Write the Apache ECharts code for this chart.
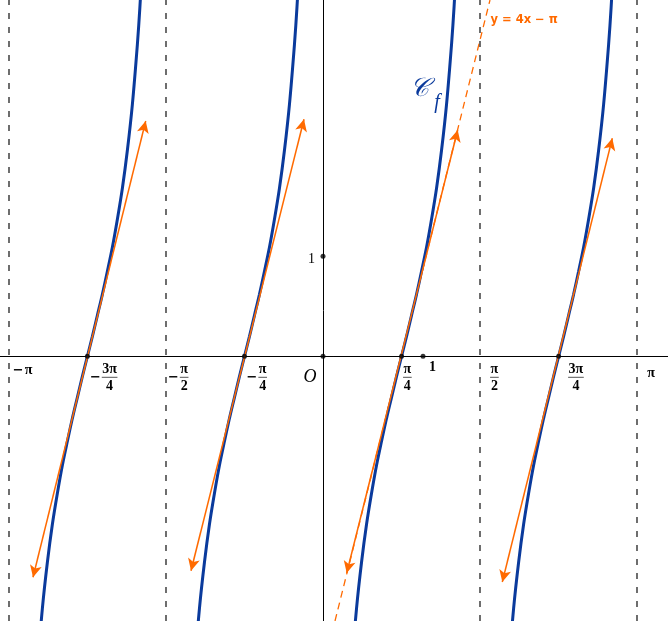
<!DOCTYPE html>
<html><head><meta charset="utf-8">
<script src="https://cdn.jsdelivr.net/npm/echarts@6/dist/echarts.min.js"></script>
<style>html,body{margin:0;padding:0;background:#fff}#c{width:668px;height:621px}</style>
</head><body><div id="c"></div>
<script>
const PI = Math.PI;

// ---- data ----
// zeros of the curve (one branch per zero)
const zeros = [-3 * PI / 4, -PI / 4, PI / 4, 3 * PI / 4];
// shape of one branch: horizontal offset from its zero, and curve value
const branchOffset = [-0.50, -0.45, -0.40, -0.35, -0.30, -0.25, -0.20, -0.15, -0.10, -0.05, 0, 0.05, 0.10, 0.15, 0.20, 0.25, 0.30, 0.35, 0.40, 0.45, 0.50, 0.525, 0.55];
const branchValue = [-3.12, -2.52, -2.06, -1.68, -1.37, -1.09, -0.85, -0.62, -0.41, -0.20, 0, 0.20, 0.41, 0.62, 0.85, 1.09, 1.37, 1.68, 2.06, 2.52, 3.12, 3.49, 3.93];
// vertical asymptotes
const asymptotes = [-PI, -PI / 2, PI / 2, PI];
// tangent segments (arrow to arrow)
const tangentStart = [[-2.90, -2.21], [-1.32, -2.144], [0.237, -2.167], [1.793, -2.257]];
const tangentEnd = [[-1.773, 2.353], [-0.19, 2.37], [1.347, 2.263], [2.893, 2.18]];
// dashed extension of y = 4x - pi
const tangentLine = [[0.12, -2.647], [1.67, 3.563]];
// marked points
const dots = [[0, 0], [0, 1], [1, 0], [-3 * PI / 4, 0], [-PI / 4, 0], [PI / 4, 0], [3 * PI / 4, 0]];
// x tick labels
const tickValues = [-PI, -3 * PI / 4, -PI / 2, -PI / 4, PI / 4, 1, PI / 2, 3 * PI / 4, PI];
const tickSign = ['−', '−', '−', '−', '', '', '', '', ''];
const tickNum = ['π', '3π', 'π', 'π', 'π', '1', 'π', '3π', 'π'];
const tickDen = ['', '4', '2', '4', '4', '', '2', '4', ''];
const curveName = ['𝒞', 'f'];
const tangentLabel = 'y = 4x − π';

// ---- layout (pixels offsets relative to anchors) ----
const tickLayout = [
  {dx: 4, dy: 14}, {dx: 2.5, dy: 0}, {dx: 2, dy: 0}, {dx: 2, dy: 0},
  {dx: 1.5, dy: 0}, {dx: 6, dy: 11}, {dx: 10, dy: 0}, {dx: 9.5, dy: 0}, {dx: 10, dy: 17}
];
const BLUE = '#0a3a9c';
const ORANGE = '#ff6a00';
const FONT_B = 'bold 14px "Liberation Serif"';
const FONT_MINUS = 'bold 13px "DejaVu Serif"';

const cv = document.createElement('canvas').getContext('2d');
function measure(t, font) { cv.font = font || FONT_B; return cv.measureText(t).width; }
function txt(t, x, y, align, font, fill) {
  return {type: 'text', style: {text: t, x: x, y: y, align: align, verticalAlign: 'middle', font: font || FONT_B, fill: fill || '#000'}};
}

const chart = echarts.init(document.getElementById('c'), null, {renderer: 'canvas'});

const branchSeries = zeros.map(z => ({
  type: 'line',
  data: branchOffset.map((d, i) => [z + d, branchValue[i]]),
  showSymbol: false, smooth: 0.3, clip: true, z: 3,
  lineStyle: {color: BLUE, width: 3}
}));

const option = {
  animation: false,
  grid: {left: 0, right: 0, top: 0, bottom: 0},
  xAxis: {type: 'value', min: -3.23, max: 3.45,
    axisLine: {onZero: true, lineStyle: {color: '#000', width: 1}},
    axisTick: {show: false}, axisLabel: {show: false}, splitLine: {show: false}},
  yAxis: {type: 'value', min: -2.647, max: 3.563,
    axisLine: {onZero: true, lineStyle: {color: '#000', width: 1}},
    axisTick: {show: false}, axisLabel: {show: false}, splitLine: {show: false}},
  series: [
    {type: 'line', data: [], z: 1,
      markLine: {silent: true, symbol: 'none', label: {show: false}, animation: false,
        lineStyle: {type: [6, 8], color: '#4a4a4a', width: 1.6},
        data: asymptotes.map(v => ({xAxis: v}))}},
    {type: 'line', data: tangentLine, showSymbol: false, z: 2,
      lineStyle: {color: ORANGE, width: 1.3, type: [7, 5]}},
    ...branchSeries,
    {type: 'line', data: [], z: 4,
      markLine: {silent: true, symbol: ['arrow', 'arrow'], symbolSize: [9, 12], label: {show: false}, animation: false,
        lineStyle: {type: 'solid', color: ORANGE, width: 1.5},
        data: tangentStart.map((s, i) => [{coord: s}, {coord: tangentEnd[i]}])}},
    {type: 'scatter', data: dots, symbolSize: 5, z: 5, itemStyle: {color: '#000'}},
    {type: 'custom', coordinateSystem: 'cartesian2d', z: 6, clip: false,
      data: tickValues.map(v => [v, 0]),
      renderItem: function (params, api) {
        const i = params.dataIndex;
        const p = api.coord([api.value(0), api.value(1)]);
        const L = tickLayout[i];
        let x = p[0] + L.dx;
        const base = p[1];
        const ch = [];
        if (tickDen[i]) {
          const barY = base + 21;
          if (tickSign[i]) { ch.push(txt('−', x, barY, 'left', FONT_MINUS)); x += measure('−', FONT_MINUS) + 1; }
          const w = Math.max(measure(tickNum[i]), measure(tickDen[i])) + 1;
          ch.push(txt(tickNum[i], x + w / 2, base + 13, 'center'));
          ch.push({type: 'line', shape: {x1: x, y1: barY, x2: x + w, y2: barY}, style: {stroke: '#555', lineWidth: 1}});
          ch.push(txt(tickDen[i], x + w / 2, base + 30, 'center'));
        } else {
          let y = base + L.dy;
          if (tickSign[i]) { ch.push(txt('−', x, y, 'left', FONT_MINUS)); x += measure('−', FONT_MINUS) + 1; }
          ch.push(txt(tickNum[i], x, y, 'left'));
        }
        return {type: 'group', children: ch};
      }},
    {type: 'custom', coordinateSystem: 'cartesian2d', z: 6, clip: false,
      data: [[0, 0]],
      renderItem: function (params, api) {
        const o = api.coord([0, 0]);
        const one = api.coord([0, 1]);
        const t = api.coord([tangentLine[1][0], tangentLine[1][1]]);
        const c = api.coord([0.96, 2.67]);
        return {type: 'group', children: [
          txt('O', o[0] - 13, o[1] + 21, 'center', 'italic 18px "Liberation Serif"'),
          txt('1', one[0] - 11.5, one[1] + 3, 'center', '14px "Liberation Serif"'),
          txt(tangentLabel, t[0] + 0.5, t[1] + 20, 'left', 'bold 11.5px "DejaVu Sans"', ORANGE),
          txt(curveName[0], c[0], c[1], 'center', 'italic 26px "DejaVu Serif"', BLUE),
          txt(curveName[1], c[0] + 18, c[1] + 13, 'center', 'italic 20px "Liberation Serif"', BLUE)
        ]};
      }}
  ]
};
chart.setOption(option);
</script>
</body></html>
